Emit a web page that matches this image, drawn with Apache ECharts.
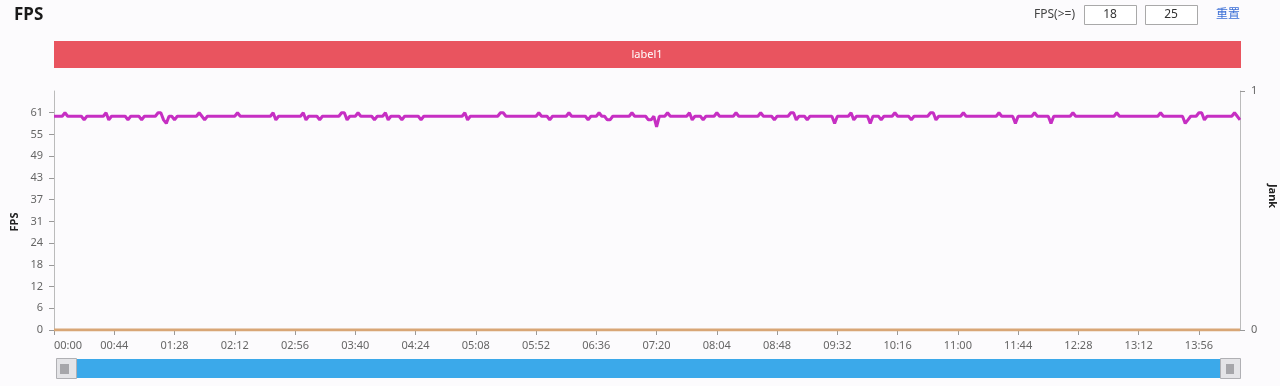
<!DOCTYPE html>
<html>
<head>
<meta charset="utf-8">
<script src="https://cdn.jsdelivr.net/npm/echarts@6/dist/echarts.min.js"></script>
<style>
html,body{margin:0;padding:0;background:#fcfbfd;}
#chart{width:1280px;height:386px;}
</style>
</head>
<body>
<div id="chart"></div>
<script>
// ---- data ----
// FPS sampled every 2 seconds, from 00:00 to 14:26
const sampleSeconds = 2;
const fpsValues = [
60,60,60,60,61,60,60,60,60,60,60,59,60,60,60,60,60,60,60,61,
59,60,60,60,60,60,60,59,60,60,60,60,59,60,60,60,60,60,61,61,
59,58,60,60,59,60,60,60,60,60,60,60,60,61,60,59,60,60,60,60,
60,60,60,60,60,60,60,61,60,60,60,60,60,60,60,60,60,60,60,60,
61,59,60,60,60,60,60,60,60,60,60,61,59,60,60,60,60,59,60,60,
60,60,60,60,60,61,61,59,60,60,60,61,60,60,60,60,60,59,60,60,
60,61,59,60,60,60,60,59,60,60,60,60,60,60,59,60,60,60,60,60,
60,60,60,60,60,60,60,60,60,60,61,59,60,60,60,60,60,60,60,60,
60,60,60,61,61,60,60,60,60,60,60,60,60,60,60,60,60,61,60,60,
60,59,60,60,60,60,60,60,61,60,60,60,60,60,60,59,60,60,60,61,
60,60,59,59,60,60,60,60,60,60,60,61,60,60,60,60,60,59,59,60,
57,60,60,60,61,60,60,60,60,60,60,60,61,59,60,60,60,59,60,60,
60,60,61,60,60,60,60,60,60,61,60,60,60,60,60,60,60,60,61,60,
60,60,60,59,60,60,60,60,60,61,61,59,60,60,60,59,60,60,60,60,
60,60,60,60,60,58,60,60,60,60,60,61,59,60,60,60,60,60,58,60,
60,60,59,60,60,60,60,61,60,60,60,60,60,59,60,60,60,60,60,60,
61,61,59,60,60,60,60,60,60,60,60,60,61,60,60,60,60,60,60,60,
60,60,60,60,60,61,60,60,60,60,60,58,60,60,60,60,60,60,61,60,
60,60,60,60,58,60,60,60,60,60,60,60,61,60,60,60,60,60,60,60,
60,60,60,60,60,60,60,60,61,60,60,60,60,60,60,60,60,60,60,60,
60,60,60,60,61,60,60,60,60,60,60,60,60,58,59,60,60,60,61,61,
59,60,60,60,60,60,60,60,60,60,60,61,60,59
];
// Jank stays at zero over the whole run
const jankTimes = [0, 866];
const jankValues = [0, 0];
// axis ticks
const timeMax = 866;
const timeTickStep = 44;
const fpsAxisMax = 67.1;
const fpsTickValues = [0, 6.1, 12.2, 18.3, 24.4, 30.5, 36.6, 42.7, 48.8, 54.9, 61];
const jankTickValues = [0, 1];
// header texts
const titleText = 'FPS';
const bandLabel = 'label1';
const filterLabel = 'FPS(>=)';
const filterLow = '18';
const filterHigh = '25';
const resetText = '重置';

// ---- build ----
const fpsData = fpsValues.map((v, i) => [i * sampleSeconds, v]);
const jankData = jankTimes.map((t, i) => [t, jankValues[i]]);
function mmss(v) {
  const m = Math.floor(v / 60), s = Math.round(v % 60);
  return String(m).padStart(2, '0') + ':' + String(s).padStart(2, '0');
}
const FONT = '"Noto Sans", "Noto Sans CJK SC", sans-serif';

const chart = echarts.init(document.getElementById('chart'), null, {renderer: 'canvas'});
chart.setOption({
  backgroundColor: '#fcfbfd',
  animation: false,
  textStyle: {fontFamily: FONT},
  grid: {left: 54, right: 40, top: 91, bottom: 56},
  xAxis: {
    type: 'value',
    min: 0,
    max: timeMax,
    interval: timeTickStep,
    axisLine: {show: true, lineStyle: {color: '#bbb', width: 1}},
    axisTick: {show: true, length: 5, lineStyle: {color: '#999'}},
    axisLabel: {
      formatter: mmss, color: '#666', fontSize: 11, margin: 10,
      showMaxLabel: false, alignMinLabel: 'left', fontFamily: FONT
    },
    splitLine: {show: false}
  },
  yAxis: [{
    type: 'value',
    min: 0,
    max: fpsAxisMax,
    interval: 6.1,
    axisLine: {show: true, lineStyle: {color: '#bbb'}},
    axisTick: {show: true, length: 5, lineStyle: {color: '#999'}, customValues: fpsTickValues},
    axisLabel: {
      color: '#666', fontSize: 11, margin: 11, fontFamily: FONT,
      customValues: fpsTickValues,
      formatter: v => String(Math.round(v))
    },
    splitLine: {show: false}
  }, {
    type: 'value',
    min: 0,
    max: 1,
    interval: 1,
    position: 'right',
    axisLine: {show: true, lineStyle: {color: '#bbb'}},
    axisTick: {show: true, length: 5, lineStyle: {color: '#999'}, customValues: jankTickValues},
    axisLabel: {color: '#666', fontSize: 11, margin: 11, fontFamily: FONT, customValues: jankTickValues},
    splitLine: {show: false}
  }],
  dataZoom: [{
    type: 'slider',
    xAxisIndex: 0,
    start: 0,
    end: 100,
    filterMode: 'none',
    left: 64,
    right: 50,
    bottom: 8,
    height: 19,
    backgroundColor: 'rgba(0,0,0,0)',
    borderColor: 'rgba(0,0,0,0)',
    fillerColor: '#3ba9ea',
    showDataShadow: false,
    showDetail: false,
    brushSelect: false,
    moveHandleSize: 0,
    dataBackground: {lineStyle: {opacity: 0}, areaStyle: {opacity: 0}},
    selectedDataBackground: {lineStyle: {opacity: 0}, areaStyle: {opacity: 0}},
    handleIcon: 'path://M0,0 L20,0 L20,20 L0,20 Z',
    handleSize: 20,
    handleStyle: {color: '#e4e4e7', borderColor: '#b0b0b4', borderWidth: 1},
    emphasis: {handleStyle: {color: '#e4e4e7', borderColor: '#b0b0b4'}}
  }],
  series: [{
    name: 'FPS',
    type: 'line',
    data: fpsData,
    yAxisIndex: 0,
    showSymbol: false,
    symbol: 'none',
    lineStyle: {color: '#c62fc3', width: 3},
    itemStyle: {color: '#c62fc3'},
    z: 3
  }, {
    name: 'Jank',
    type: 'line',
    data: jankData,
    yAxisIndex: 1,
    showSymbol: false,
    symbol: 'none',
    lineStyle: {color: '#d8a676', width: 3},
    itemStyle: {color: '#d8a676'},
    z: 4
  }],
  graphic: [
    {type: 'text', left: 14, top: 7, style: {text: titleText, fontSize: 17, fontWeight: 'bold', fill: '#1a1a1a', fontFamily: FONT}},
    {type: 'rect', shape: {x: 54, y: 41, width: 1187, height: 27}, style: {fill: '#e9545f'}},
    {type: 'text', x: 647, y: 55, style: {text: bandLabel, fill: '#ffffff', fontSize: 11, align: 'center', verticalAlign: 'middle', fontFamily: FONT}},
    {type: 'text', x: 1075, y: 15, style: {text: filterLabel, fill: '#444', fontSize: 12, align: 'right', verticalAlign: 'middle', fontFamily: FONT}},
    {type: 'rect', shape: {x: 1084.5, y: 5.5, width: 52, height: 19}, style: {fill: '#fff', stroke: '#a9a9a9', lineWidth: 1}},
    {type: 'text', x: 1110, y: 15, style: {text: filterLow, fill: '#333', fontSize: 12, align: 'center', verticalAlign: 'middle', fontFamily: FONT}},
    {type: 'rect', shape: {x: 1145.5, y: 5.5, width: 52, height: 19}, style: {fill: '#fff', stroke: '#a9a9a9', lineWidth: 1}},
    {type: 'text', x: 1171, y: 15, style: {text: filterHigh, fill: '#333', fontSize: 12, align: 'center', verticalAlign: 'middle', fontFamily: FONT}},
    {type: 'text', x: 1228, y: 15, style: {text: resetText, fill: '#3b6fd6', fontSize: 12, align: 'center', verticalAlign: 'middle', fontFamily: FONT}},
    {type: 'text', x: 15, y: 222, rotation: Math.PI / 2, style: {text: 'FPS', fill: '#222', fontSize: 11, fontWeight: 'bold', align: 'center', verticalAlign: 'middle', fontFamily: FONT}},
    {type: 'text', x: 1272, y: 196, rotation: -Math.PI / 2, style: {text: 'Jank', fill: '#222', fontSize: 11, fontWeight: 'bold', align: 'center', verticalAlign: 'middle', fontFamily: FONT}},
    {type: 'rect', z: 100, shape: {x: 60, y: 364, width: 9, height: 10}, style: {fill: '#a6a6aa'}},
    {type: 'rect', z: 100, shape: {x: 1226, y: 364, width: 8, height: 10}, style: {fill: '#a6a6aa'}}
  ]
});
</script>
</body>
</html>
